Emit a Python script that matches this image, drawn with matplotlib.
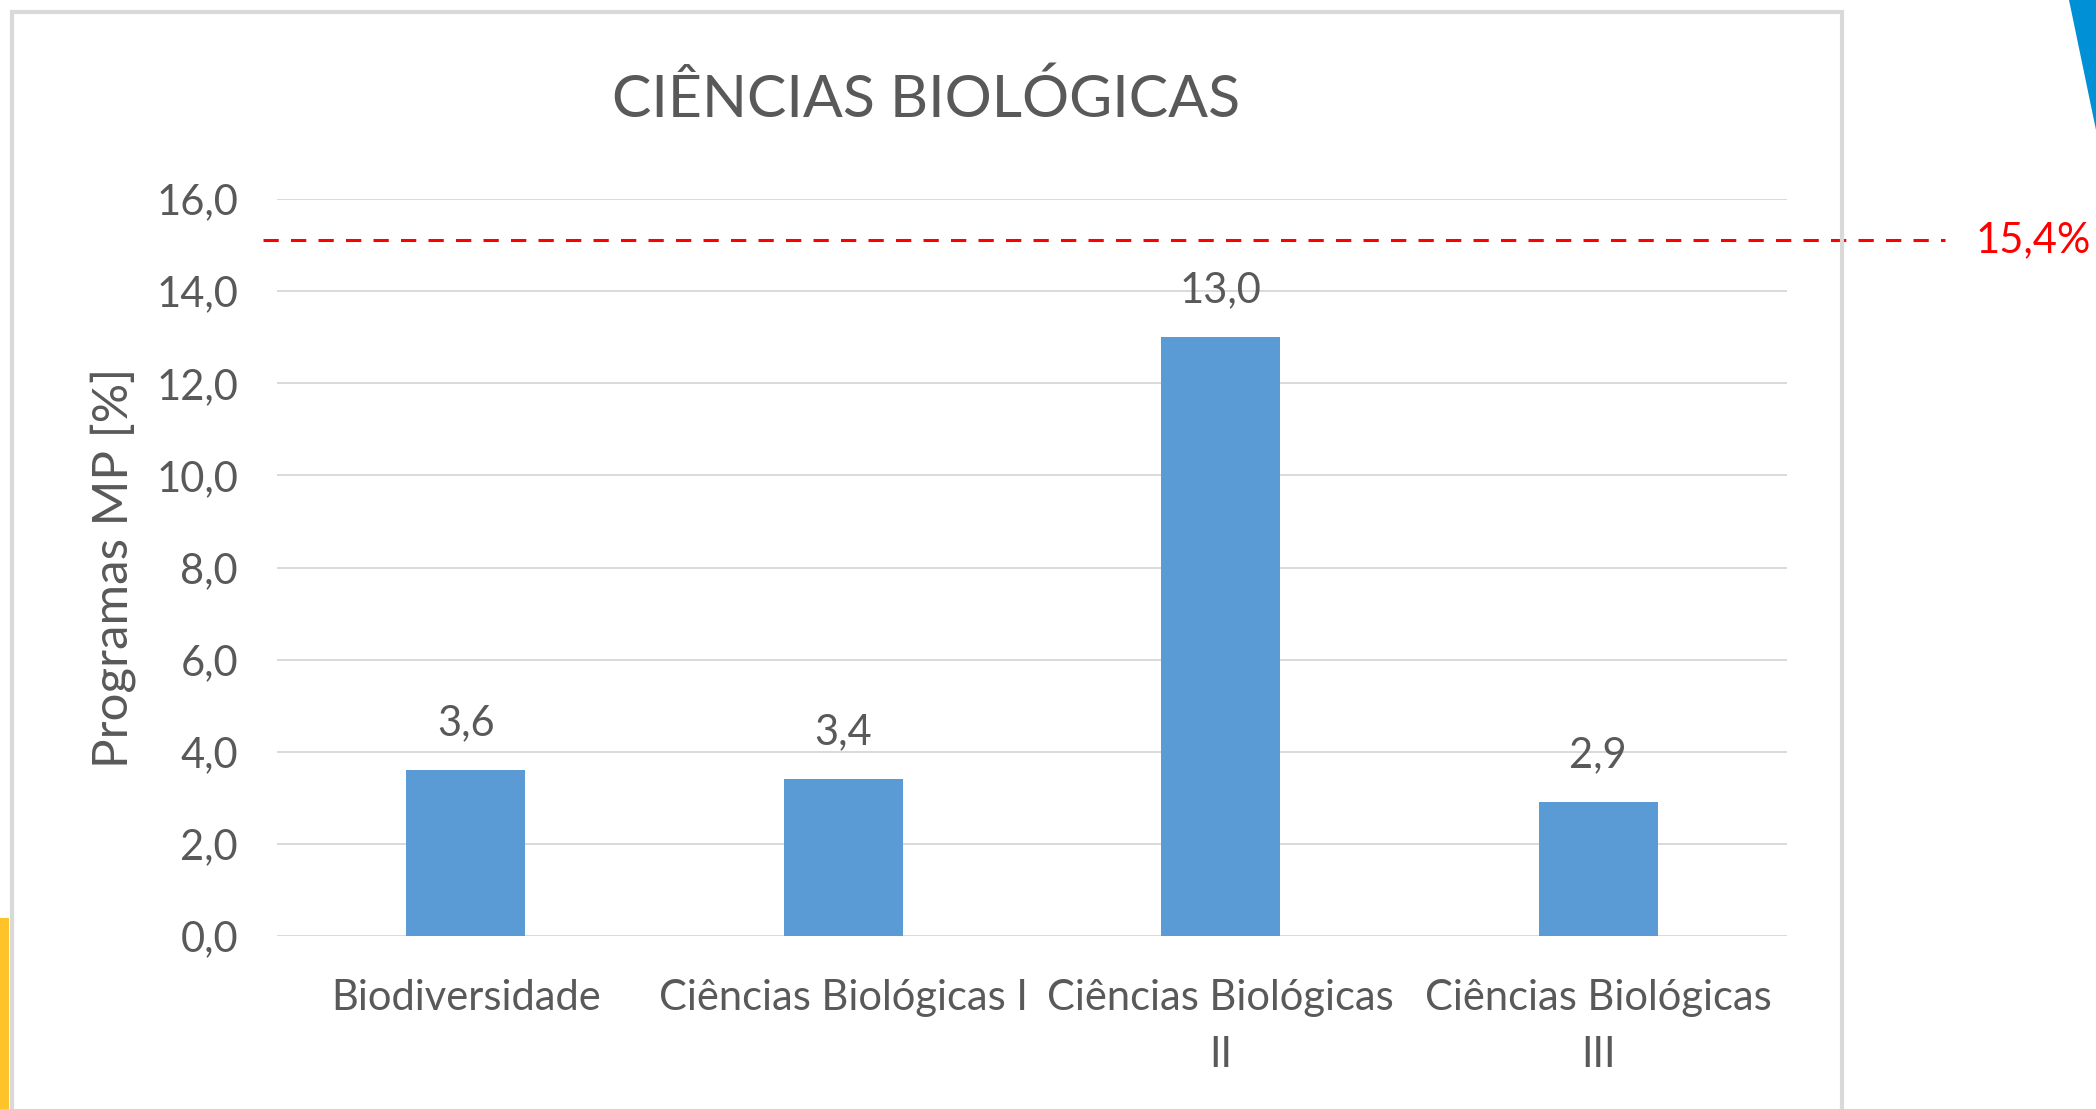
import matplotlib
matplotlib.use("Agg")
import matplotlib.pyplot as plt
from matplotlib.patches import Rectangle, Polygon
from matplotlib.transforms import blended_transform_factory

plt.rcParams['font.family'] = ['Lato', 'DejaVu Sans']

# data
categories = ["Biodiversidade", "Ciências Biológicas I", "Ciências Biológicas\nII", "Ciências Biológicas\nIII"]
values = [3.6, 3.4, 13.0, 2.9]
value_labels = ["3,6", "3,4", "13,0", "2,9"]
y_ticks = [0, 2, 4, 6, 8, 10, 12, 14, 16]
y_tick_labels = ["0,0", "2,0", "4,0", "6,0", "8,0", "10,0", "12,0", "14,0", "16,0"]
ref_line_pos = 15.1
ref_label = "15,4%"
title = "CIÊNCIAS BIOLÓGICAS"
ylabel = "Programas MP [%]"

W, H = 2096, 1109
gray_text = '#595959'
grid_col = '#D9D9D9'
bar_col = '#5B9BD5'

fig = plt.figure(figsize=(W / 100, H / 100), dpi=100)
fig.patch.set_facecolor('white')

# decorations outside the chart frame
fig.patches.append(Polygon([(2069 / W, 1), (1, 1), (1, 1 - 130 / H)], closed=True,
                           transform=fig.transFigure, facecolor='#0090D6', edgecolor='none'))
fig.patches.append(Rectangle((0, 0), 9 / W, (H - 918) / H, transform=fig.transFigure,
                             facecolor='#FFC32A', edgecolor='none'))
fig.patches.append(Rectangle((12 / W, -0.05), (1842 - 12) / W, 1.05 - 12 / H,
                             transform=fig.transFigure, facecolor='none',
                             edgecolor=grid_col, linewidth=3))

ax = fig.add_axes([277 / W, (H - 936) / H, 1510 / W, 737 / H])
x = list(range(len(categories)))
ax.bar(x, values, width=0.315, color=bar_col, zorder=3)

for xi, v, lab in zip(x, values, value_labels):
    ax.annotate(lab, (xi, v), xytext=(0, 25), textcoords='offset points',
                ha='center', va='baseline', fontsize=30, color=gray_text)

ax.set_xlim(-0.5, len(categories) - 0.5)
ax.set_ylim(0, 16)
ax.set_yticks(y_ticks)
ax.set_yticklabels(y_tick_labels)
ax.set_xticks(x)
ax.set_xticklabels(categories, linespacing=1.62)
ax.tick_params(axis='y', length=0, pad=28, labelsize=30, labelcolor=gray_text)
ax.tick_params(axis='x', length=0, pad=31, labelsize=30, labelcolor=gray_text)
ax.grid(axis='y', color=grid_col, linewidth=1.4, zorder=0)
for s in ax.spines.values():
    s.set_visible(False)

# reference line, running past the plot area
tr = blended_transform_factory(ax.transAxes, ax.transData)
ax.plot([(263 - 277) / 1510, (1945 - 277) / 1510], [ref_line_pos, ref_line_pos],
        transform=tr, color='#FF0000', linewidth=2.2, linestyle=(0, (5, 4)),
        clip_on=False, zorder=4)
ax.text((1976 - 277) / 1510, ref_line_pos, ref_label, transform=tr, ha='left',
        va='center', fontsize=30, color='#FF0000', clip_on=False)

fig.text(926 / W, 1 - 117 / H, title, ha='center', va='baseline', fontsize=42.5, color=gray_text)
fig.text(113 / W, 1 - 568 / H, ylabel, rotation=90, ha='center', va='center',
         fontsize=35.5, color=gray_text)

fig.savefig('out.png', dpi=100)
